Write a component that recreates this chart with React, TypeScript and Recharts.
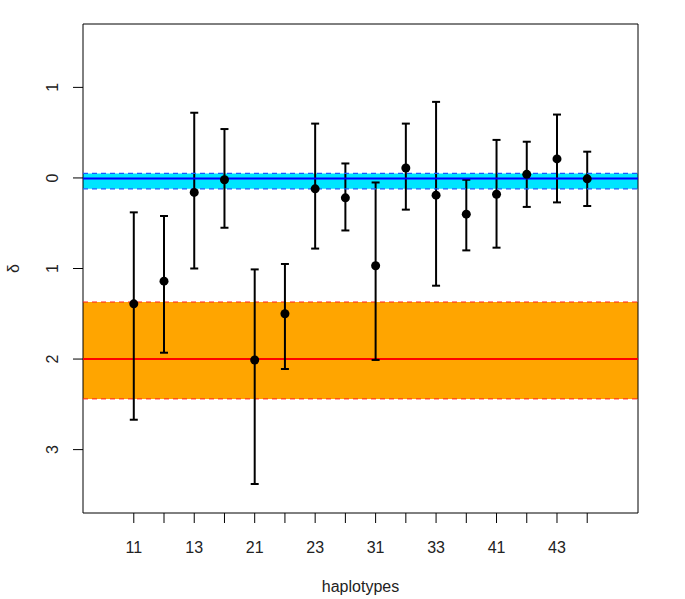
import React from 'react';
import {
  ComposedChart,
  Scatter,
  ErrorBar,
  XAxis,
  YAxis,
  ReferenceArea,
  ReferenceLine,
} from 'recharts';

const haplotypes = ['11', '12', '13', '14', '21', '22', '23', '24', '31', '32', '33', '34', '41', '42', '43', '44'];
const delta = [-1.39, -1.14, -0.16, -0.02, -2.01, -1.5, -0.12, -0.22, -0.97, 0.11, -0.19, -0.4, -0.18, 0.04, 0.21, -0.01];
const upper = [-0.38, -0.42, 0.72, 0.54, -1.01, -0.95, 0.6, 0.16, -0.05, 0.6, 0.84, -0.02, 0.42, 0.4, 0.7, 0.29];
const lower = [-2.67, -1.93, -1.0, -0.55, -3.38, -2.11, -0.78, -0.58, -2.01, -0.35, -1.19, -0.8, -0.77, -0.32, -0.27, -0.31];

// reference bands: [low, mean, high]
const blueBand = [-0.12, -0.005, 0.05];
const orangeBand = [-2.44, -2.0, -1.37];

const yTicks = [-3, -2, -1, 0, 1];
const X_DOMAIN = [-0.68, 17.68];
const Y_DOMAIN = [-3.7, 1.7];

const FONT = '"Liberation Sans", Arial, sans-serif';
const FS = 16;

// error array is [distance below, distance above]
const points = delta.map((d, i) => ({
  x: i + 1,
  y: d,
  err: [d - lower[i], upper[i] - d],
}));

const Dot = (props: any) => <circle cx={props.cx} cy={props.cy} r={4.5} fill="#000" />;

const YTick = (props: any) => {
  const { y, payload } = props;
  const tx = 52;
  return (
    <text
      x={tx}
      y={y}
      dy="0.35em"
      textAnchor="middle"
      transform={`rotate(-90, ${tx}, ${y})`}
      fontSize={FS}
      fontFamily={FONT}
      fill="#222"
    >
      {String(Math.abs(payload.value))}
    </text>
  );
};

const YLabel = (props: any) => {
  const vb = props.viewBox || {};
  const cy = vb.y + vb.height / 2;
  return (
    <text
      x={13}
      y={cy}
      dy="0.35em"
      textAnchor="middle"
      transform={`rotate(-90, 13, ${cy})`}
      fontSize={FS}
      fontFamily={FONT}
      fill="#222"
    >
      δ
    </text>
  );
};

export default function App() {
  return (
    <div style={{ position: 'absolute', left: 0, top: 0, width: 685, height: 599, background: '#fff' }}>
      <ComposedChart width={685} height={599} data={points} margin={{ top: 24, right: 47, bottom: 0, left: 0 }}>
        <XAxis
          dataKey="x"
          type="number"
          domain={X_DOMAIN}
          allowDataOverflow
          ticks={points.map((p) => p.x)}
          interval={0}
          tickFormatter={(v: number) => (v % 2 === 1 ? haplotypes[v - 1] : '')}
          tickSize={10}
          tickMargin={19}
          height={86}
          axisLine={false}
          tickLine={{ stroke: '#000' }}
          tick={{ fontSize: FS, fontFamily: FONT, fill: '#222' }}
          label={{ value: 'haplotypes', position: 'insideBottom', offset: 7, fontSize: FS, fontFamily: FONT, fill: '#222' }}
        />
        <YAxis
          dataKey="y"
          type="number"
          domain={Y_DOMAIN}
          allowDataOverflow
          ticks={yTicks}
          interval={0}
          width={83}
          tickSize={10}
          axisLine={false}
          tickLine={{ stroke: '#000' }}
          tick={<YTick />}
          label={<YLabel />}
        />
        <ReferenceArea y1={orangeBand[0]} y2={orangeBand[2]} fill="#FFA500" fillOpacity={1} stroke="none" />
        <ReferenceLine y={orangeBand[0]} stroke="#ff2020" strokeDasharray="5 4" strokeWidth={1} />
        <ReferenceLine y={orangeBand[2]} stroke="#ff2020" strokeDasharray="5 4" strokeWidth={1} />
        <ReferenceLine y={orangeBand[1]} stroke="#ff0000" strokeWidth={2} />
        <ReferenceArea y1={blueBand[0]} y2={blueBand[2]} fill="#00E5FF" fillOpacity={1} stroke="none" />
        <Scatter data={points} fill="#000" shape={<Dot />} isAnimationActive={false}>
          <ErrorBar dataKey="err" direction="y" width={4} strokeWidth={2} stroke="#000" />
        </Scatter>
        <ReferenceLine y={blueBand[0]} stroke="#1a5cff" strokeDasharray="5 4" strokeWidth={1.2} />
        <ReferenceLine y={blueBand[2]} stroke="#1a5cff" strokeDasharray="5 4" strokeWidth={1.2} />
        <ReferenceLine y={blueBand[1]} stroke="#0000ff" strokeWidth={2} />
        <ReferenceArea
          x1={X_DOMAIN[0]}
          x2={X_DOMAIN[1]}
          y1={Y_DOMAIN[0]}
          y2={Y_DOMAIN[1]}
          fill="none"
          stroke="#000"
          strokeWidth={1}
        />
      </ComposedChart>
    </div>
  );
}
